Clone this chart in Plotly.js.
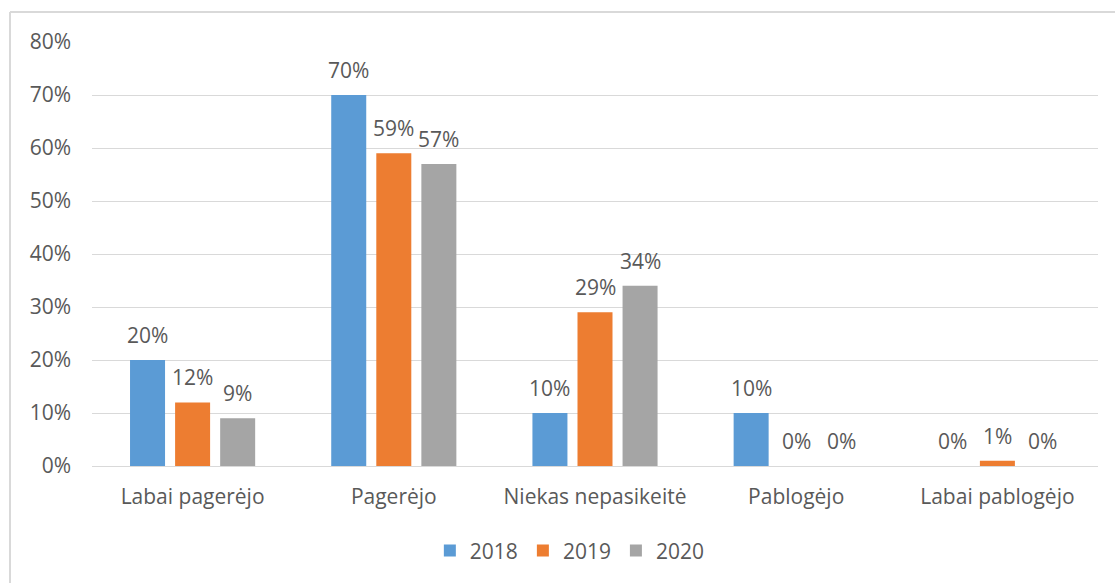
<!DOCTYPE html>
<html>
<head>
<meta charset="utf-8">
<script src="https://cdn.plot.ly/plotly-3.0.1.min.js"></script>
<style>html,body{margin:0;padding:0;background:#fff;}#chart{width:1115px;height:583px;}</style>
</head>
<body>
<div id="chart"></div>
<script>
const categories = ["Labai pagerėjo", "Pagerėjo", "Niekas nepasikeitė", "Pablogėjo", "Labai pablogėjo"];
const seriesNames = ["2018", "2019", "2020"];
const values2018 = [0.20, 0.70, 0.10, 0.10, 0.00];
const values2019 = [0.12, 0.59, 0.29, 0.00, 0.01];
const values2020 = [0.09, 0.57, 0.34, 0.00, 0.00];
const colors = ["#5B9BD5", "#ED7D31", "#A5A5A5"];
const yTicks = [0, 0.1, 0.2, 0.3, 0.4, 0.5, 0.6, 0.7, 0.8];

const font = "'Open Sans', 'Noto Sans', sans-serif";
const txtColor = "#595959";
const fs = 21;
const barWidth = 0.174;
const slot = 0.224;
const allVals = [values2018, values2019, values2020];
const traces = allVals.map((v, i) => ({
  type: "bar",
  name: seriesNames[i],
  x: categories,
  y: v,
  width: barWidth,
  offset: (i - 1) * slot - barWidth / 2,
  marker: {color: colors[i]},
  hoverinfo: "none"
}));

const annotations = [];
allVals.forEach((v, i) => {
  v.forEach((val, j) => {
    annotations.push({
      xref: "x", yref: "y",
      x: j + (i - 1) * slot, y: val,
      text: Math.round(val * 100) + "%",
      showarrow: false,
      xanchor: "center", yanchor: "bottom",
      yshift: 9,
      font: {family: font, size: fs, color: txtColor}
    });
  });
});

const layout = {
  width: 1115, height: 583,
  margin: {l: 92, r: 17, t: 42, b: 117, autoexpand: false},
  paper_bgcolor: "#fff", plot_bgcolor: "#fff",
  barmode: "overlay",
  font: {family: font, color: txtColor, size: fs},
  showlegend: true,
  legend: {orientation: "h", x: 0.475, xanchor: "center", y: -0.152, yanchor: "top",
           font: {family: font, size: fs, color: txtColor}, itemwidth: 30, traceorder: "normal"},
  xaxis: {showline: false, ticks: "", tickfont: {family: font, size: fs, color: txtColor}, fixedrange: true,
          ticklabelstandoff: 16, range: [-0.5, 4.5]},
  yaxis: {range: [0, 0.8], tickvals: yTicks, tickformat: ".0%", showgrid: true, gridcolor: "#D9D9D9",
          gridwidth: 1, zeroline: true, zerolinecolor: "#D9D9D9", zerolinewidth: 1,
          ticks: "", ticklen: 0, tickfont: {family: font, size: fs, color: txtColor}, fixedrange: true, ticklabelstandoff: 20},
  annotations: annotations,
  shapes: [
    {type: "line", xref: "paper", yref: "paper", x0: (10 - 92) / 1006, x1: (1115 - 92) / 1006, y0: 1 + 30 / 424, y1: 1 + 30 / 424,
     line: {color: "#D9D9D9", width: 2}},
    {type: "line", xref: "paper", yref: "paper", x0: (10 - 92) / 1006, x1: (10 - 92) / 1006, y0: 1 + 30 / 424, y1: -117 / 424,
     line: {color: "#D9D9D9", width: 2}}
  ]
};
Plotly.newPlot("chart", traces, layout, {displayModeBar: false, staticPlot: true});
</script>
</body>
</html>
